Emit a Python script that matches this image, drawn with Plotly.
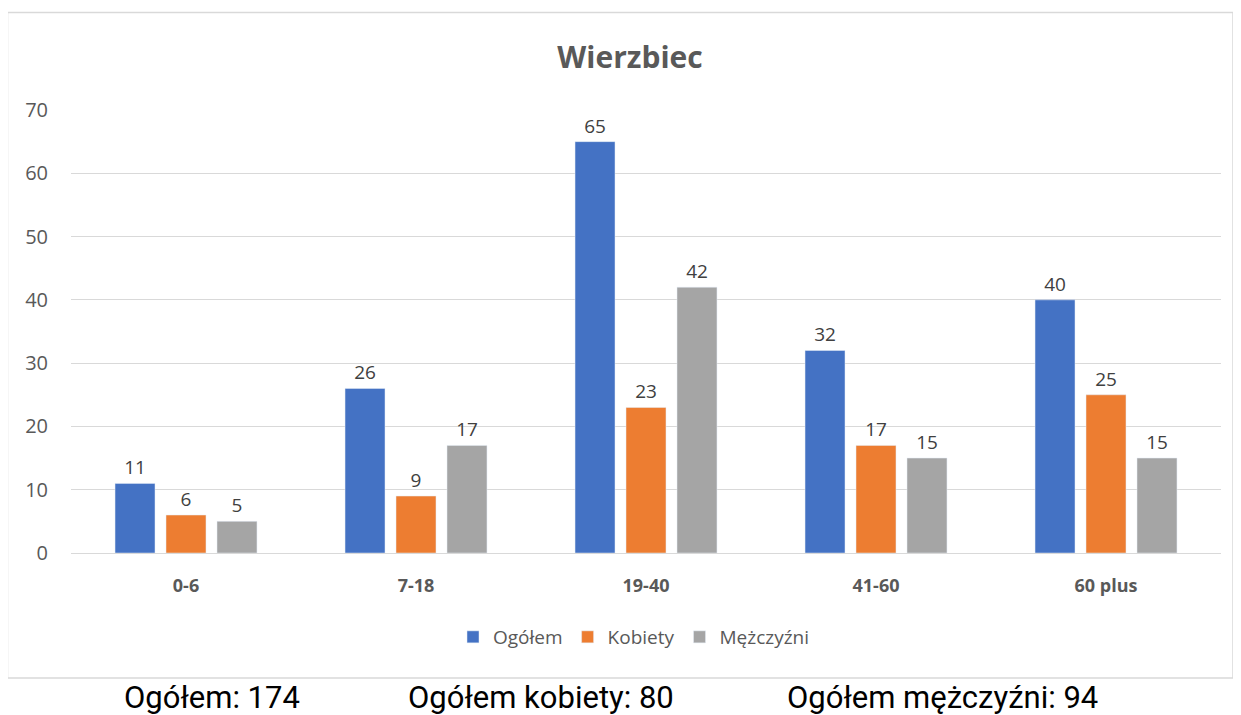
import plotly.graph_objects as go

categories = ["0-6", "7-18", "19-40", "41-60", "60 plus"]
ogolem = [11, 26, 65, 32, 40]
kobiety = [6, 9, 23, 17, 25]
mezczyzni = [5, 17, 42, 15, 15]
series_names = ["Ogółem", "Kobiety", "Mężczyźni"]
colors = ["#4472C4", "#ED7D31", "#A5A5A5"]
title_text = "Wierzbiec"
footer_texts = ["Ogółem: 174", "Ogółem kobiety: 80", "Ogółem mężczyźni: 94"]

OFF = 8  # default page body margin
W, H = 1241 - OFF, 715 - OFF
# plot area in reference pixel coordinates
PX0, PX1, PY0, PY1 = 71, 1221, 110, 553
L, R = PX0 - OFF, W - (PX1 - OFF)
T, B = PY0 - OFF, H - (PY1 - OFF)
pw, ph = PX1 - PX0, PY1 - PY0

def px_x(x):
    return (x - PX0) / pw

def px_y(y):
    return (PY1 - y) / ph

FONT = "Open Sans"
fig = go.Figure()
for name, vals, col in zip(series_names, [ogolem, kobiety, mezczyzni], colors):
    fig.add_trace(go.Bar(
        x=categories, y=vals, name=name, marker_color=col,
        text=vals, textposition="outside", cliponaxis=False,
        textfont=dict(family=FONT, size=19, color="#404040"),
    ))

fig.update_layout(
    width=W, height=H,
    margin=dict(l=L, r=R, t=T, b=B),
    paper_bgcolor="white", plot_bgcolor="white",
    barmode="group", bargap=0.335, bargroupgap=0.216,
    title=dict(text="<b>" + title_text + "</b>", x=px_x(630), xref="paper",
               xanchor="center", y=1 - (57 - OFF) / H, yanchor="middle",
               font=dict(family=FONT, size=30, color="#595959")),
    font=dict(family=FONT, size=19, color="#595959"),
    legend=dict(orientation="h", x=px_x(634), xanchor="center",
                y=px_y(637), yanchor="middle",
                font=dict(family=FONT, size=19, color="#595959"),
                itemwidth=30, traceorder="normal"),
    showlegend=True,
)
fig.update_yaxes(range=[0, 70], dtick=10, showgrid=True, gridcolor="#D9D9D9",
                 gridwidth=1, zeroline=True, zerolinecolor="#D9D9D9",
                 zerolinewidth=1, showline=False, ticks="",
                 ticklabelstandoff=22,
                 tickfont=dict(family=FONT, size=20, color="#595959"))
fig.update_xaxes(showline=False, ticks="", ticklabelstandoff=20,
                 tickfont=dict(family=FONT, size=18, color="#595959"),
                 tickprefix="<b>", ticksuffix="</b>")

# chart border
fig.add_shape(type="rect", xref="paper", yref="paper",
              x0=px_x(7.5), x1=px_x(1233), y0=px_y(678), y1=px_y(12.5),
              line=dict(color="#D9D9D9", width=1.5), fillcolor="rgba(0,0,0,0)",
              layer="below")

for txt, cx in zip(footer_texts, [212, 541, 942]):
    fig.add_annotation(text=txt, xref="paper", yref="paper",
                       x=px_x(cx), y=px_y(697), xanchor="center", yanchor="middle",
                       showarrow=False,
                       font=dict(family="Roboto", size=31, color="#000000"))

fig.write_html("out.html")
